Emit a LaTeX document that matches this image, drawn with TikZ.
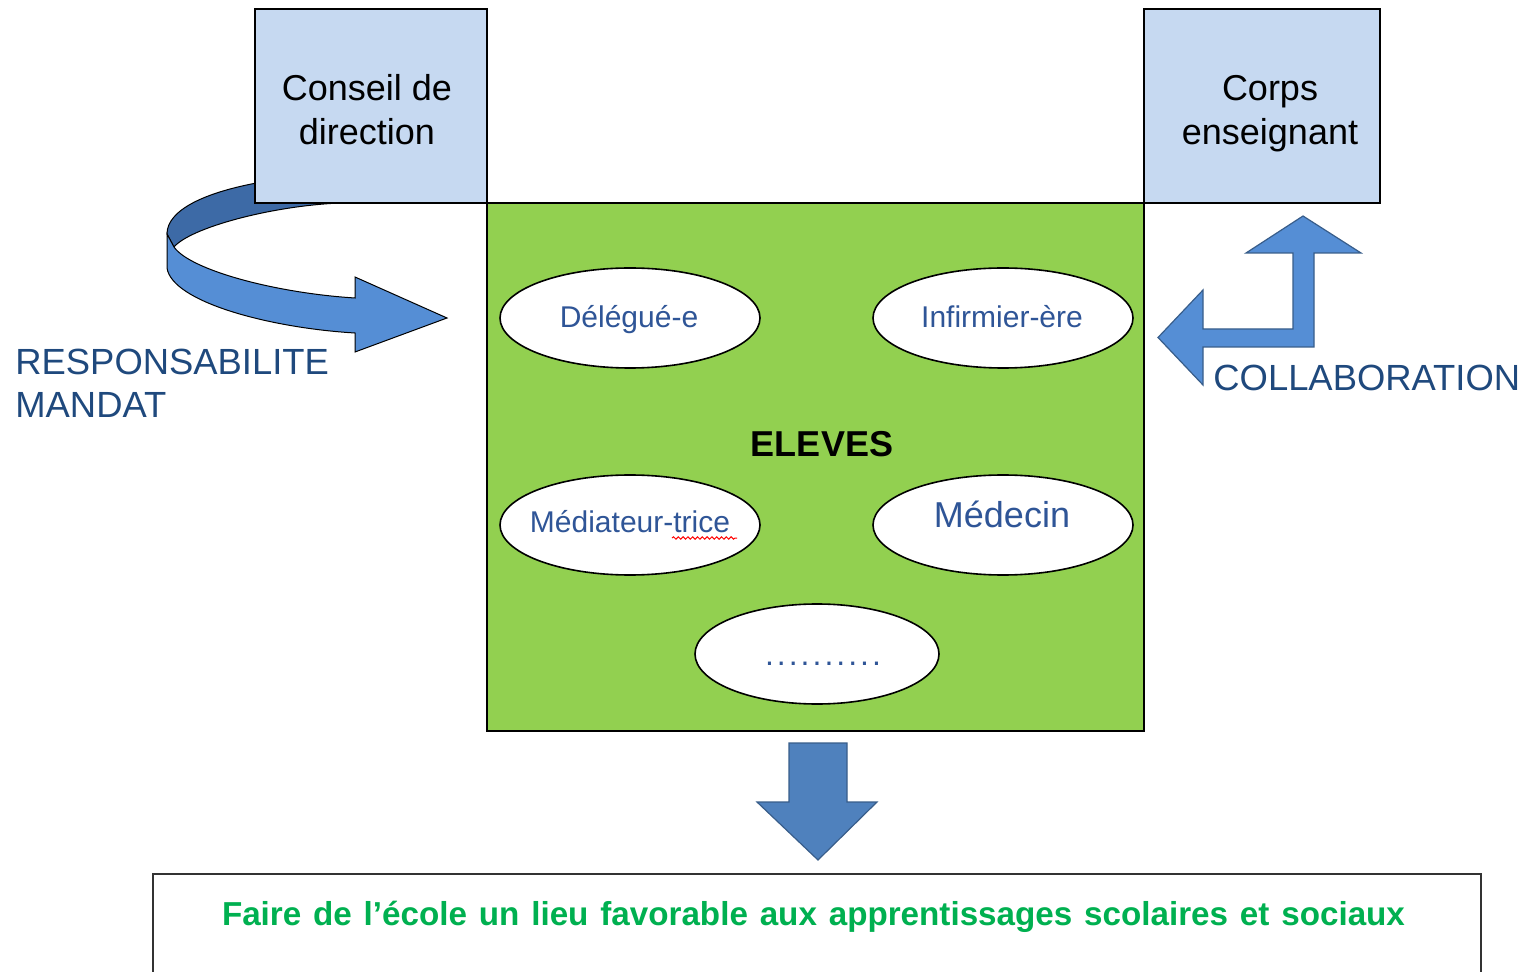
\documentclass[tikz,border=0pt]{standalone}
\usepackage{fontspec}
\setmainfont{Liberation Sans}
\usetikzlibrary{shapes.geometric,decorations.pathmorphing}
\definecolor{boxblue}{HTML}{C6D9F1}
\definecolor{elevgreen}{HTML}{92D050}
\definecolor{arrowblue}{HTML}{4F81BD}
\definecolor{arrowedge}{HTML}{385D8A}
\definecolor{ribbonfront}{HTML}{558ED5}
\definecolor{ribbonback}{HTML}{3D6AA6}
\definecolor{labelblue}{HTML}{1F497D}
\definecolor{ovaltext}{HTML}{2F5597}
\definecolor{goalgreen}{HTML}{00B050}
\tikzset{
  actorbox/.style={draw=black, line width=0.7pt, fill=boxblue, minimum height=97pt, inner sep=0pt},
  actortext/.style={align=center, font=\fontsize{18}{22}\selectfont},
  oval/.style={draw=black, line width=0.8pt, fill=white, ellipse, minimum width=130pt, minimum height=50pt, inner sep=0pt},
  ovallabel/.style={text=ovaltext, font=\fontsize{15}{18}\selectfont, anchor=base},
  sidelabel/.style={text=labelblue, align=left, font=\fontsize{18.2}{21.5}\selectfont, inner sep=0pt},
  blockarrow/.style={draw=arrowedge, line width=0.6pt, line join=miter},
}
\begin{document}
\begin{tikzpicture}[x=0.5pt,y=-0.5pt]
\useasboundingbox (0,0) rectangle (1530,972);
\clip (0,0) rectangle (1530,972);
% back of the curved ribbon
\path[fill=ribbonback, draw=black, line width=0.5pt] (262,182) .. controls (205,192) and (167,210) .. (167,234) -- (174,247) .. controls (190,228) and (270,206) .. (340,203) -- (262,203) -- cycle;
% actor boxes
\node[actorbox, minimum width=116pt] (conseil) at (371,106) {};
\node[actortext] (conseiltxt) at (367,110) {Conseil de\\direction};
\node[actorbox, minimum width=118pt] (corps) at (1262,106) {};
\node[actortext] (corpstxt) at (1270,114) {Corps\\enseignant};
% central green box
\node[draw=black, line width=0.7pt, fill=elevgreen, minimum width=328.5pt, minimum height=264pt, inner sep=0pt] (eleves) at (815.5,467) {};
\node[font=\fontsize{18}{22}\selectfont\bfseries] (elevestxt) at (822,444) {ELEVES};
% ovals
\node[oval] (delegue) at (630,318) {};
\node[ovallabel] (deleguetxt) at (629,328) {Délégué-e};
\node[oval] (infirm) at (1003,318) {};
\node[ovallabel] (infirmtxt) at (1002,328) {Infirmier-ère};
\node[oval] (mediat) at (630,525) {};
\node[ovallabel] (mediattxt) at (630,532) {Médiateur-trice};
\draw[red, line width=0.5pt, decorate, decoration={snake, amplitude=0.6pt, segment length=2.4pt}] (672,538) coordinate (sq1) -- (737,538) coordinate (sq2);
\node[oval] (medecin) at (1003,525) {};
\node[ovallabel, font=\fontsize{18}{22}\selectfont] (medecintxt) at (1002,528) {Médecin};
\node[oval, minimum width=122pt] (autre) at (817,654) {};
\node[ovallabel, font=\fontsize{16}{18}\selectfont, inner sep=0pt] (autretxt) at (823,665) {\makebox[58pt][s]{.\hfill.\hfill.\hfill.\hfill.\hfill.\hfill.\hfill.\hfill.\hfill.}};
% front of the curved ribbon with its head
\path[fill=ribbonfront, draw=black, line width=0.5pt] (167,234) -- (167,268) .. controls (172,302) and (270,328) .. (355,333) -- (355,352) -- (447,318) -- (355,277) -- (355,298) .. controls (275,293) and (190,270) .. (174,247) -- cycle;
\node[sidelabel, anchor=west] (resp) at (15,383.5) {RESPONSABILITE\\MANDAT};
% collaboration bent arrow
\path[blockarrow, fill=ribbonfront] (1303,216) -- (1361,253) -- (1314,253) -- (1314,347) -- (1203,347) -- (1203,385) -- (1158,337.5) -- (1203,290) -- (1203,329) -- (1293,329) -- (1293,253) -- (1246,253) -- cycle;
\node[sidelabel, anchor=west] (collab) at (1213,378) {COLLABORATION};
% goal box
\node[draw=black!80, line width=0.8pt, fill=white, minimum width=664pt, minimum height=70pt, inner sep=0pt, anchor=north west] (goal) at (152,873) {};
\node[text=goalgreen, font=\fontsize{16.6}{19}\selectfont\bfseries, anchor=base, inner sep=0pt] (goaltxt) at (813.5,925) {\makebox[591.5pt][s]{Faire de l’école un lieu favorable aux apprentissages scolaires et sociaux}};
% down arrow
\path[blockarrow, fill=arrowblue] (789,743) -- (847,743) -- (847,802) -- (877,802) -- (818,860) -- (757,802) -- (789,802) -- cycle;
\end{tikzpicture}
\end{document}
